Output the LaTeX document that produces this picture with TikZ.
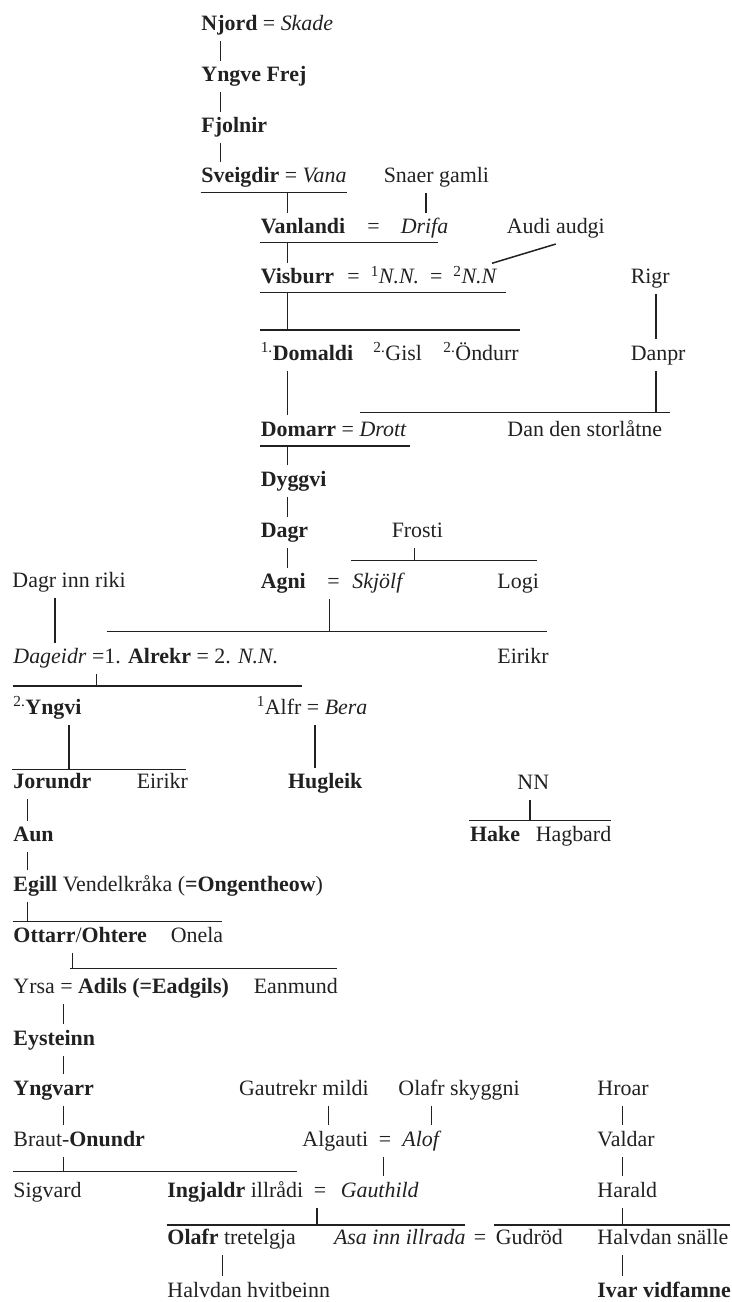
\documentclass[tikz,border=0pt]{standalone}
\usepackage{fontspec}
\setmainfont{Liberation Serif}
\definecolor{ink}{gray}{0.13}

\begin{document}
\begin{tikzpicture}[x=1bp,y=-1bp,line width=1.5bp,color=ink,
  nm/.style={anchor=base west,inner xsep=0pt,inner ysep=5bp,
    text height=15bp,text depth=5bp,font=\fontsize{22}{26}\selectfont}]

  \useasboundingbox (0,0) rectangle (731,1302);

  % names
  \node[nm] (njord) at (200.7,30.7) {\textbf{Njord} = \textit{Skade}};
  \node[nm] (yngve) at (200.7,81.7) {\textbf{Yngve Frej}};
  \node[nm] (fjolnir) at (200.7,132.3) {\textbf{Fjolnir}};
  \node[nm] (sveigdir) at (200.7,182.7) {\textbf{Sveigdir} = \textit{Vana}};
  \node[nm] (snaer) at (383,182.7) {Snaer gamli};
  \node[nm] (vanlandi) at (260,233.3) {\textbf{Vanlandi}};
  \node[nm] (vaneq) at (366.7,233.3) {=};
  \node[nm] (drifa) at (400,233.3) {\textit{Drifa}};
  \node[nm] (audi) at (506,233.3) {Audi audgi};
  \node[nm] (visburr) at (260,284) {\textbf{Visburr}};
  \node[nm] (visnn) at (346.7,284) {=\enspace\textsuperscript{1}\textit{N.N.}\enspace=\enspace\textsuperscript{2}\textit{N.N}};
  \node[nm] (rigr) at (630,283.3) {Rigr};
  \node[nm] (domaldi) at (260,360) {\textsuperscript{1.}\textbf{Domaldi}};
  \node[nm] (gisl) at (372.7,360) {\textsuperscript{2.}Gisl};
  \node[nm] (ondurr) at (442.7,360) {\textsuperscript{2.}Öndurr};
  \node[nm] (danpr) at (630,360) {Danpr};
  \node[nm] (domarr) at (260,436) {\textbf{Domarr} = \textit{Drott}};
  \node[nm] (dan) at (506.7,436) {Dan den storlåtne};
  \node[nm] (dyggvi) at (260,486) {\textbf{Dyggvi}};
  \node[nm] (dagr) at (260,537.3) {\textbf{Dagr}};
  \node[nm] (frosti) at (391,537.3) {Frosti};
  \node[nm] (agni) at (260,588.3) {\textbf{Agni}};
  \node[nm] (agnieq) at (326.7,588.3) {=};
  \node[nm] (skjolf) at (351.7,588.3) {\textit{Skjölf}};
  \node[nm] (logi) at (496.7,588.3) {Logi};
  \node[nm] (dagrinn) at (11.7,587.5) {Dagr inn riki};
  \node[nm] (dageidr) at (12.7,663.3) {\textit{Dageidr} =1. \textbf{Alrekr} = 2. \textit{N.N.}};
  \node[nm] (eirikrA) at (496.7,663.3) {Eirikr};
  \node[nm] (yngvi) at (12.7,714.3) {\textsuperscript{2.}\textbf{Yngvi}};
  \node[nm] (alfr) at (256,714.3) {\textsuperscript{1}Alfr = \textit{Bera}};
  \node[nm] (jorundr) at (12.7,788.3) {\textbf{Jorundr}};
  \node[nm] (eirikrB) at (136,788.3) {Eirikr};
  \node[nm] (hugleik) at (287.3,788.3) {\textbf{Hugleik}};
  \node[nm] (nn) at (516.7,789) {NN};
  \node[nm] (aun) at (12.7,841.7) {\textbf{Aun}};
  \node[nm] (hake) at (469.3,841.7) {\textbf{Hake}};
  \node[nm] (hagbard) at (535,841.7) {Hagbard};
  \node[nm] (egill) at (12.7,891) {\textbf{Egill} Vendelkråka (\textbf{=Ongentheow})};
  \node[nm] (ottarr) at (12.7,942) {\textbf{Ottarr}/\textbf{Ohtere}};
  \node[nm] (onela) at (170,942) {Onela};
  \node[nm] (yrsa) at (12.7,993) {Yrsa = \textbf{Adils (=Eadgils)}};
  \node[nm] (eanmund) at (253,993) {Eanmund};
  \node[nm] (eysteinn) at (12.7,1045) {\textbf{Eysteinn}};
  \node[nm] (yngvarr) at (12.7,1095) {\textbf{Yngvarr}};
  \node[nm] (gautrekr) at (238.3,1095) {Gautrekr mildi};
  \node[nm] (olafrS) at (397.7,1095) {Olafr skyggni};
  \node[nm] (hroar) at (596.7,1095) {Hroar};
  \node[nm] (braut) at (12.7,1146) {Braut-\textbf{Onundr}};
  \node[nm] (algauti) at (301.7,1146) {Algauti};
  \node[nm] (algeq) at (378,1146) {=};
  \node[nm] (alof) at (401.7,1146) {\textit{Alof}};
  \node[nm] (valdar) at (596.7,1146) {Valdar};
  \node[nm] (sigvard) at (12.7,1197) {Sigvard};
  \node[nm] (ingjaldr) at (166.7,1197) {\textbf{Ingjaldr} illrådi};
  \node[nm] (ingeq) at (313,1197) {=};
  \node[nm] (gauthild) at (340,1197) {\textit{Gauthild}};
  \node[nm] (harald) at (596.7,1197) {Harald};
  \node[nm] (olafrT) at (166.7,1244) {\textbf{Olafr} tretelgja};
  \node[nm] (asa) at (333.3,1244) {\textit{Asa inn illrada}};
  \node[nm] (asaeq) at (473,1244) {=};
  \node[nm] (gudrod) at (495,1244) {Gudröd};
  \node[nm] (halvdanS) at (596.7,1244) {Halvdan snälle};
  \node[nm] (halvdanH) at (166.7,1297) {Halvdan hvitbeinn};
  \node[nm] (ivar) at (596.7,1297) {\textbf{Ivar vidfamne}};

  % columns of the drop lines
  \foreach \n/\x in {cA/220.7,cB/287.7,cSn/426,cR/656,cFr/414.3,cAg/329.3,
      cDi/55,cAl/96.7,cYv/69,cAf/315,cNN/530,cJo/27.5,cOt/72.7,cYr/63.3,
      cGa/328.3,cOs/431.7,cAlg/383.3,cIn/317,cHr/622.3,cOl/222.7}
    \coordinate (\n) at (\x,0);

  % family bars
  \foreach \n/\xa/\xb/\y in {bSv/200.7/346.7/192.7, bVa/260/438.3/242.3,
      bVi/260/506/292.7, bDo/260/520/330, bDa/360/670/412.5, bDm/260/410/446,
      bFr/351/536.7/560.7, bAg/106.7/546.7/631.7, bAl/12.7/301.7/686,
      bYv/11.7/186/769.3, bNN/469.3/610.7/820.7, bEg/12.7/221.7/921.7,
      bOt/70/337.3/968.3, bBr/12.7/297/1171.7, bIn/166.7/465/1225,
      bHa/494.3/730/1225}{
    \coordinate (\n) at (\xa,\y);
    \coordinate (\n e) at (\xb,\y);
    \draw (\n) -- (\n e);
  }

  % parent to child
  \foreach \a/\b/\c in {njord/yngve/cA, yngve/fjolnir/cA, fjolnir/sveigdir/cA,
      snaer/drifa/cSn, rigr/danpr/cR, domaldi/domarr/cB, dyggvi/dagr/cB,
      dagr/agni/cB, dagrinn/dageidr/cDi, alfr/hugleik/cAf, jorundr/aun/cJo,
      aun/egill/cJo, yrsa/eysteinn/cYr, eysteinn/yngvarr/cYr,
      yngvarr/braut/cYr, gautrekr/algauti/cGa, olafrS/alof/cOs,
      algeq/gauthild/cAlg, hroar/valdar/cHr, valdar/harald/cHr,
      olafrT/halvdanH/cOl, halvdanS/ivar/cHr}
    \draw (\a.south -| \c) -- (\b.north -| \c);

  % parent down to a bar
  \foreach \a/\b/\c in {danpr/bDa/cR, frosti/bFr/cFr, agnieq/bAg/cAg,
      dageidr/bAl/cAl, yngvi/bYv/cYv, nn/bNN/cNN, egill/bEg/cJo,
      ottarr/bOt/cOt, braut/bBr/cYr, ingeq/bIn/cIn, harald/bHa/cHr}
    \draw (\a.south -| \c) -- (\b -| \c);

  % bar down to a child
  \foreach \a/\b in {bSv/vanlandi, bVa/visburr, bDm/dyggvi}
    \draw (\a -| cB) -- (\b.north -| cB);
  \draw (bVi -| cB) -- (bDo -| cB);

  \draw (audi.south) -- ([xshift=-6bp]visnn.north east);
\end{tikzpicture}
\end{document}
